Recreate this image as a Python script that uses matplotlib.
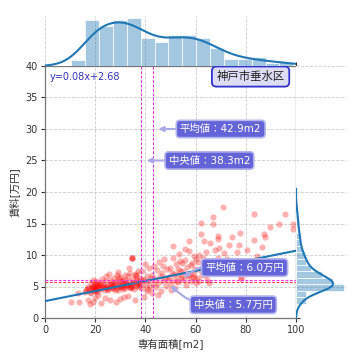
import numpy as np
import matplotlib
matplotlib.use("Agg")
import matplotlib.pyplot as plt
import seaborn as sns

plt.rcParams['font.family'] = ['DejaVu Sans', 'Noto Sans CJK JP']

# ---- data ----
area = [
    10.5, 13.3, 13.4,
    16.0, 16.5, 17.0, 17.2, 17.5, 17.8, 18.0, 18.2, 18.5, 18.7, 19.0, 19.0, 19.2, 19.5, 19.5, 19.8,
    20.0, 20.0, 20.2, 20.3, 20.5, 20.5, 20.7, 20.8, 21.0, 21.0, 16.8, 18.9, 19.7, 20.1, 20.9,
    21.5, 21.8, 22.0, 22.3, 22.5, 22.8, 23.0, 23.2, 23.5, 23.8, 24.0, 24.2, 24.5, 24.8, 25.0, 25.2,
    25.5, 25.8, 26.0, 26.2, 26.5, 26.7, 22.1, 23.6, 24.6, 25.4, 26.3,
    27.0, 27.2, 27.5, 27.8, 28.0, 28.2, 28.5, 28.7, 29.0, 29.2, 29.5, 29.8, 30.0, 30.0, 30.3, 30.5,
    30.7, 31.0, 31.2, 31.5, 31.7, 32.0, 32.2, 27.4, 28.4, 29.4, 30.4, 31.4, 32.1, 28.9, 30.9, 31.9,
    32.6, 32.8, 33.0, 33.2, 33.5, 33.8, 34.0, 34.2, 34.5, 34.7, 34.7, 34.7, 35.0, 35.2, 35.5, 35.8,
    36.0, 36.2, 36.5, 36.8, 37.0, 37.2, 37.5, 37.8, 33.3, 34.1, 35.3, 36.4, 37.3, 33.9, 36.1, 37.6,
    38.2, 38.5, 38.8, 39.2, 39.5, 39.8, 40.2, 40.5, 40.8, 41.2, 41.5, 41.8, 42.2, 42.5, 42.8, 43.2,
    43.5, 39.0, 41.0,
    43.8, 44.2, 44.6, 45.0, 45.4, 45.8, 46.2, 46.6, 47.0, 47.4, 47.8, 48.2, 48.6, 49.0, 45.2, 47.2,
    49.4, 49.8, 50.2, 50.6, 51.0, 51.4, 51.8, 52.2, 52.6, 53.0, 53.4, 53.8, 54.2, 54.6, 50.0, 51.2,
    52.4, 53.6, 54.4, 50.8, 52.8,
    55.0, 55.4, 55.8, 56.2, 56.6, 57.0, 57.4, 57.8, 58.2, 58.6, 59.0, 59.4, 59.8, 60.2, 55.6, 56.8,
    58.0, 59.2, 60.0, 57.2, 58.8,
    60.6, 61.0, 61.4, 61.8, 62.2, 62.2, 62.6, 63.0, 63.3, 63.8, 64.2, 64.6, 65.0, 65.4, 65.7, 61.2,
    62.8, 64.0, 65.2,
    66.3, 66.8, 67.0, 67.6, 68.2, 68.8, 69.0, 69.0, 69.5, 70.2, 70.8, 71.2,
    72.5, 73.4, 74.4, 75.5, 76.5,
    77.4, 77.7, 78.0, 78.0, 80.3,
    83.3, 83.3, 84.5, 87.4, 87.6, 86.5,
    89.6, 93.3,
    95.6, 98.9, 98.9,
]
rent = [
    2.6, 3.9, 2.6,
    4.2, 4.5, 2.8, 5.0, 4.8, 4.2, 2.3, 5.5, 4.0, 4.8, 4.5, 6.0, 2.6, 5.0, 5.2, 4.3,
    4.6, 3.2, 5.8, 4.9, 4.4, 5.5, 4.1, 5.0, 5.2, 3.7, 4.6, 4.9, 5.1, 4.4, 5.4,
    4.8, 4.6, 5.5, 2.4, 5.2, 6.2, 4.9, 5.0, 4.5, 3.2, 5.8, 5.0, 6.6, 4.7, 4.5, 5.3,
    4.9, 2.9, 6.0, 5.4, 5.6, 4.8, 5.3, 5.1, 4.6, 7.0, 5.2,
    5.0, 4.8, 6.3, 4.5, 5.6, 2.5, 4.8, 6.8, 4.4, 5.3, 5.1, 5.9, 6.5, 3.0, 5.1, 5.4,
    5.7, 6.1, 4.6, 5.4, 4.7, 6.9, 5.2, 5.3, 5.8, 6.4, 4.9, 3.3, 5.5, 7.3, 5.0, 6.0,
    5.3, 5.2, 6.6, 3.5, 5.8, 4.9, 7.2, 5.4, 4.9, 9.6, 9.6, 9.6, 6.2, 5.6, 5.7, 2.8,
    6.8, 5.1, 5.4, 6.0, 7.5, 5.5, 5.0, 6.4, 8.0, 5.0, 4.6, 6.7, 5.9, 4.8, 7.0, 5.2,
    5.6, 7.4, 4.7, 6.1, 3.4, 8.6, 5.3, 6.7, 4.3, 5.9, 7.9, 5.0, 6.4, 3.9, 6.9, 5.4,
    8.2, 6.0, 4.6,
    6.2, 4.9, 7.6, 5.5, 8.9, 6.6, 4.3, 7.1, 5.8, 9.3, 6.4, 5.1, 7.8, 6.0, 3.7, 8.3,
    6.5, 8.0, 5.4, 7.2, 9.6, 6.1, 4.8, 8.5, 6.9, 5.7, 10.2, 7.4, 6.3, 8.8, 4.5, 7.0,
    5.9, 9.1, 6.6, 11.4, 7.7,
    7.5, 6.0, 9.2, 5.3, 8.1, 6.7, 10.6, 7.0, 5.8, 8.7, 6.3, 9.9, 7.8, 5.6, 11.0, 6.9,
    8.4, 6.5, 9.4, 12.3, 7.2,
    6.4, 8.9, 5.9, 7.6, 13.4, 15.1, 6.8, 9.5, 12.2, 7.2, 10.4, 6.1, 8.2, 5.5, 11.9, 10.0,
    7.9, 6.9, 9.0,
    8.5, 15.0, 16.1, 10.8, 7.5, 9.6, 13.0, 12.5, 11.1, 8.8, 17.6, 10.3,
    9.4, 11.6, 12.9, 8.2, 10.5,
    11.6, 13.5, 6.4, 6.4, 10.8,
    16.5, 12.4, 9.8, 13.4, 12.9, 11.2,
    14.5, 15.0,
    16.5, 15.0, 14.2,
]
slope, intercept = 0.08, 2.68
mean_area, median_area = 42.9, 38.3
mean_rent, median_rent = 6.0, 5.7
region_name = "神戸市垂水区"

area = np.array(area)
rent = np.array(rent)

W = H = 360
fig = plt.figure(figsize=(3.6, 3.6), dpi=100)
L, R, B, T = 45, 296, 318, 66
ax = fig.add_axes([L / W, 1 - B / H, (R - L) / W, (B - T) / H])
ax_top = fig.add_axes([L / W, 1 - T / H, (R - L) / W, 50 / H], sharex=ax)
ax_right = fig.add_axes([R / W, 1 - B / H, 50 / W, (B - T) / H], sharey=ax)

grid_kw = dict(color='#cccccc', linestyle='--', linewidth=0.6)
spine_c = '#777777'

# main scatter
ax.scatter(area, rent, s=20, color='red', alpha=0.3, linewidth=0, zorder=3)
xs = np.array([0, 100])
ax.plot(xs, slope * xs + intercept, color='#1f77b4', lw=1.5, zorder=4)

ax.axvline(median_area, color='#dd33dd', ls='--', lw=0.8, dashes=(2.5, 1.5), zorder=5)
ax.axvline(mean_area, color='#dd33dd', ls='--', lw=0.8, dashes=(2.5, 1.5), zorder=5)
ax.axhline(mean_rent, color='#ee33ee', ls='--', lw=0.8, dashes=(2.5, 1.5), zorder=5)
ax.axhline(median_rent, color='#ff3355', ls='--', lw=0.8, dashes=(2.5, 1.5), zorder=5)

ax.set_xlim(0, 100)
ax.set_ylim(0, 40)
ax.set_xticks(range(0, 101, 20))
ax.set_yticks(range(0, 41, 5))
ax.grid(True, **grid_kw)
ax.set_axisbelow(True)
ax.tick_params(labelsize=7, length=3, width=0.8, color='#333333', labelcolor='#333333',
               top=True, right=True, pad=2)
for s in ax.spines.values():
    s.set_color(spine_c)
    s.set_linewidth(0.9)
ax.set_xlabel('専有面積[m2]', fontsize=7.5, color='#333333', labelpad=2)
ax.set_ylabel('賃料[万円]', fontsize=7.5, color='#333333', labelpad=4)

ax.text(0.02, 0.975, f'y={slope:.2f}x+{intercept:.2f}', transform=ax.transAxes,
        fontsize=7, color='#3333bb', va='top', ha='left')
ax.text(0.955, 0.98, region_name, transform=ax.transAxes, fontsize=8.2, color='#222222',
        va='top', ha='right',
        bbox=dict(boxstyle='round,pad=0.4', fc='#dcdcf5', ec='#3333cc', lw=1.3))

box = dict(boxstyle='round,pad=0.35', fc='#6464d8', ec='#b4b4ee', lw=1.2)
arrow = dict(arrowstyle='-|>', color='#aaaae6', lw=1.5, shrinkA=0, shrinkB=4)
ax.annotate(f'平均値：{mean_area:.1f}m2', xy=(mean_area, 30), xytext=(70, 30),
            fontsize=7.5, color='white', ha='center', va='center', bbox=box,
            arrowprops=arrow, zorder=6)
ax.annotate(f'中央値：{median_area:.1f}m2', xy=(median_area, 25), xytext=(65.5, 25),
            fontsize=7.5, color='white', ha='center', va='center', bbox=box,
            arrowprops=arrow, zorder=6)
arrow_c1 = dict(arrowstyle='-|>', color='#aaaae6', lw=1.5, shrinkA=0, shrinkB=3,
                connectionstyle='arc3,rad=0.3')
ax.annotate(f'平均値：{mean_rent:.1f}万円', xy=(54, mean_rent), xytext=(79.5, 8.0),
            fontsize=7.5, color='white', ha='center', va='center', bbox=box,
            arrowprops=arrow_c1, zorder=6)
arrow_c2 = dict(arrowstyle='-|>', color='#aaaae6', lw=1.5, shrinkA=0, shrinkB=3,
                connectionstyle='arc3,rad=-0.3')
ax.annotate(f'中央値：{median_rent:.1f}万円', xy=(49, median_rent), xytext=(75, 2.1),
            fontsize=7.5, color='white', ha='center', va='center', bbox=box,
            arrowprops=arrow_c2, zorder=6)

# marginals
sns.histplot(x=area, ax=ax_top, bins=16, kde=True, kde_kws=dict(cut=3), color='#1f77b4',
             alpha=0.4, edgecolor='white', linewidth=0.5)
sns.histplot(y=rent, ax=ax_right, bins=15, kde=True, kde_kws=dict(cut=3), color='#1f77b4',
             alpha=0.4, edgecolor='white', linewidth=0.5)
for a in (ax_top, ax_right):
    for s in a.spines.values():
        s.set_visible(False)
    a.set_xlabel('')
    a.set_ylabel('')
ax_top.grid(True, axis='x', **grid_kw)
ax_top.set_axisbelow(True)
ax_top.tick_params(axis='x', labelbottom=False, length=0)
ax_top.tick_params(axis='y', left=False, labelleft=False)
ax_top.set_ylim(0, None)
ax_right.grid(True, axis='y', **grid_kw)
ax_right.set_axisbelow(True)
ax_right.tick_params(axis='y', labelleft=False, length=0)
ax_right.tick_params(axis='x', bottom=False, labelbottom=False)
ax_right.set_xlim(0, None)
ax.set_xlim(0, 100)
ax.set_ylim(0, 40)

fig.savefig('out.png', dpi=100)
